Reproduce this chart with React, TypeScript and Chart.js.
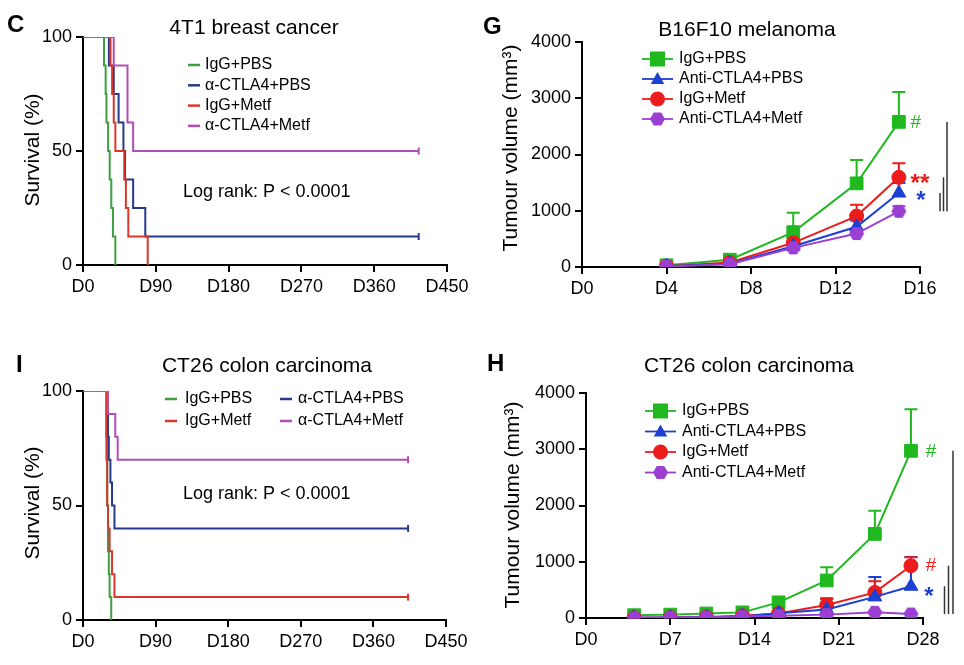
import React, { useEffect, useRef } from 'react';
import { Chart, registerables } from 'chart.js';

Chart.register(...registerables);

const FONT = "Arial, 'Liberation Sans', Helvetica, sans-serif";

// ---------- Panel C: 4T1 breast cancer (survival) ----------
const C_IGG_PBS_DAYS = [0, 26, 28, 29, 31, 33, 35, 37, 40];
const C_IGG_PBS_SURV = [100, 87.5, 75, 62.5, 50, 37.5, 25, 12.5, 0];
const C_CTLA4_PBS_DAYS = [0, 32, 38, 44, 50, 52, 62, 77, 415];
const C_CTLA4_PBS_SURV = [100, 87.5, 75, 62.5, 50, 37.5, 25, 12.5, 12.5];
const C_IGG_METF_DAYS = [0, 34, 36, 38, 40, 51, 53, 56, 80];
const C_IGG_METF_SURV = [100, 87.5, 75, 62.5, 50, 37.5, 25, 12.5, 0];
const C_CTLA4_METF_DAYS = [0, 38, 55, 62, 415];
const C_CTLA4_METF_SURV = [100, 87.5, 62.5, 50, 50];

// ---------- Panel I: CT26 colon carcinoma (survival) ----------
const I_IGG_PBS_DAYS = [0, 29, 30, 31, 32, 33, 35];
const I_IGG_PBS_SURV = [100, 80, 50, 30, 20, 10, 0];
const I_CTLA4_PBS_DAYS = [0, 30, 31, 32, 34, 36, 39, 403];
const I_CTLA4_PBS_SURV = [100, 90, 80, 70, 60, 50, 40, 40];
const I_IGG_METF_DAYS = [0, 29, 30, 31, 33, 36, 39, 403];
const I_IGG_METF_SURV = [100, 70, 50, 40, 30, 20, 10, 10];
const I_CTLA4_METF_DAYS = [0, 31, 40, 43, 403];
const I_CTLA4_METF_SURV = [100, 90, 80, 70, 70];

// ---------- Panel G: B16F10 melanoma (tumour volume) ----------
const G_DAYS = [4, 7, 10, 13, 15];
const G_IGG_PBS = [30, 130, 620, 1487, 2580];
const G_IGG_PBS_ERR = [10, 40, 345, 415, 530];
const G_CTLA4_PBS = [15, 60, 370, 715, 1315];
const G_CTLA4_PBS_ERR = [5, 20, 60, 110, 180];
const G_IGG_METF = [15, 80, 430, 905, 1594];
const G_IGG_METF_ERR = [5, 20, 80, 200, 250];
const G_CTLA4_METF = [10, 50, 340, 595, 990];
const G_CTLA4_METF_ERR = [5, 10, 40, 60, 90];

// ---------- Panel H: CT26 colon carcinoma (tumour volume) ----------
const H_DAYS = [4, 7, 10, 13, 16, 20, 24, 27];
const H_IGG_PBS = [50, 60, 80, 100, 278, 667, 1495, 2972];
const H_IGG_PBS_ERR = [10, 10, 20, 30, 80, 237, 413, 739];
const H_CTLA4_PBS = [5, 10, 15, 25, 85, 150, 375, 565];
const H_CTLA4_PBS_ERR = [3, 5, 5, 10, 20, 200, 353, 520];
const H_IGG_METF = [5, 10, 20, 40, 80, 230, 455, 930];
const H_IGG_METF_ERR = [3, 5, 5, 10, 20, 110, 200, 150];
const H_CTLA4_METF = [5, 10, 15, 25, 40, 60, 100, 71];
const H_CTLA4_METF_ERR = [2, 3, 3, 5, 10, 15, 20, 15];

const SURV_LABELS = ['IgG+PBS', 'α-CTLA4+PBS', 'IgG+Metf', 'α-CTLA4+Metf'];
const GROWTH_LABELS = ['IgG+PBS', 'Anti-CTLA4+PBS', 'IgG+Metf', 'Anti-CTLA4+Metf'];

const S_GREEN = '#3f9f3f';
const S_BLUE = '#27398a';
const S_RED = '#d8372c';
const S_MAGENTA = '#b24fb6';

const G_GREEN = '#1fb81f';
const G_BLUE = '#1c3fd4';
const G_RED = '#ec1c1c';
const G_PURPLE = '#9a3fd2';

type Box = { L: number; T: number; R: number; B: number; W: number; H: number };

const zip = (xs: number[], ys: number[]) => xs.map((x, i) => ({ x, y: ys[i] }));

function txt(ctx: CanvasRenderingContext2D, s: string, x: number, y: number, size: number, o: any = {}) {
  ctx.font = `${o.bold ? 'bold ' : ''}${size}px ${FONT}`;
  ctx.fillStyle = o.color || '#000';
  ctx.textAlign = o.align || 'left';
  ctx.textBaseline = o.baseline || 'middle';
  ctx.fillText(s, x, y);
}

function vtxt(ctx: CanvasRenderingContext2D, s: string, x: number, y: number, size: number) {
  ctx.save();
  ctx.translate(x, y);
  ctx.rotate(-Math.PI / 2);
  txt(ctx, s, 0, 0, size, { align: 'center' });
  ctx.restore();
}

function hexPath(ctx: CanvasRenderingContext2D, x: number, y: number, r: number) {
  ctx.beginPath();
  for (let k = 0; k < 6; k++) {
    const a = (Math.PI / 3) * k;
    const px = x + r * Math.cos(a);
    const py = y + r * Math.sin(a);
    if (k === 0) ctx.moveTo(px, py);
    else ctx.lineTo(px, py);
  }
  ctx.closePath();
}

function hexCanvas(color: string, r: number) {
  const c = document.createElement('canvas');
  const s = Math.ceil(2 * r + 2);
  c.width = s;
  c.height = s;
  const ctx = c.getContext('2d')!;
  ctx.fillStyle = color;
  hexPath(ctx, s / 2, s / 2, r);
  ctx.fill();
  return c;
}

function marker(ctx: CanvasRenderingContext2D, style: string, x: number, y: number, r: number, color: string) {
  ctx.fillStyle = color;
  if (style === 'hex') {
    hexPath(ctx, x, y, r);
    ctx.fill();
    return;
  }
  ctx.beginPath();
  if (style === 'rect') ctx.rect(x - r, y - r, 2 * r, 2 * r);
  else if (style === 'triangle') {
    ctx.moveTo(x, y - r * 0.95);
    ctx.lineTo(x + r * 0.9, y + r * 0.65);
    ctx.lineTo(x - r * 0.9, y + r * 0.65);
    ctx.closePath();
  } else ctx.arc(x, y, r, 0, Math.PI * 2);
  ctx.fill();
}

function scalesFor(box: Box, xMax: number, xStep: number, yMax: number, yStep: number) {
  const tickFont = { family: FONT, size: 18 };
  const grid = {
    drawOnChartArea: false,
    drawTicks: true,
    tickLength: 7,
    tickWidth: 2,
    tickColor: '#000',
    color: '#000',
    lineWidth: 2,
  };
  const border = { display: true, color: '#000', width: 2 };
  return {
    x: {
      type: 'linear',
      min: 0,
      max: xMax,
      afterFit: (s: any) => {
        s.height = box.H - box.B;
      },
      ticks: {
        stepSize: xStep,
        autoSkip: false,
        maxRotation: 0,
        color: '#000',
        font: tickFont,
        padding: 4,
        callback: (v: any) => 'D' + v,
      },
      grid,
      border,
    },
    y: {
      type: 'linear',
      min: 0,
      max: yMax,
      afterFit: (s: any) => {
        s.width = box.L;
      },
      ticks: {
        stepSize: yStep,
        color: '#000',
        font: tickFont,
        padding: 4,
        callback: (v: any) => String(v),
      },
      grid,
      border,
    },
  };
}

function baseOptions(box: Box, scales: any) {
  return {
    responsive: false,
    animation: false,
    events: [],
    layout: { padding: { left: 0, top: box.T, right: box.W - box.R, bottom: 0 } },
    plugins: { legend: { display: false }, title: { display: false }, tooltip: { enabled: false } },
    scales,
  };
}

function survDataset(label: string, days: number[], surv: number[], color: string, censored: boolean, order: number) {
  const n = days.length;
  return {
    label,
    data: zip(days, surv),
    borderColor: color,
    backgroundColor: color,
    borderWidth: 2,
    // horizontal first, then vertical drop (Kaplan-Meier step)
    stepped: 'before',
    fill: false,
    order,
    pointStyle: 'line',
    pointRotation: 90,
    pointRadius: days.map((_, i) => (censored && i === n - 1 ? 3.5 : 0)),
    pointHoverRadius: 0,
    pointBorderWidth: 2,
    pointBorderColor: color,
  };
}

function growthDataset(label: string, days: number[], vals: number[], errs: number[], color: string, style: any, radius: number, order: number) {
  return {
    label,
    data: zip(days, vals),
    errors: errs,
    borderColor: color,
    backgroundColor: color,
    borderWidth: 2,
    fill: false,
    tension: 0,
    order,
    pointStyle: style,
    pointRadius: radius,
    pointHoverRadius: radius,
    pointBackgroundColor: color,
    pointBorderColor: color,
    pointBorderWidth: 1,
  };
}

const errorBarPlugin = {
  id: 'errbars',
  beforeDatasetsDraw(chart: any) {
    const ctx = chart.ctx;
    const ys = chart.scales.y;
    chart.data.datasets.forEach((ds: any, i: number) => {
      if (!ds.errors) return;
      const meta = chart.getDatasetMeta(i);
      ctx.save();
      ctx.strokeStyle = ds.borderColor;
      ctx.lineWidth = 2;
      meta.data.forEach((p: any, j: number) => {
        const v = ds.data[j].y + ds.errors[j];
        const top = ys.getPixelForValue(v);
        ctx.beginPath();
        ctx.moveTo(p.x, p.y);
        ctx.lineTo(p.x, top);
        ctx.moveTo(p.x - 6.5, top);
        ctx.lineTo(p.x + 6.5, top);
        ctx.stroke();
      });
      ctx.restore();
    });
  },
};

function overlay(id: string, draw: (ctx: CanvasRenderingContext2D, chart: any) => void) {
  return {
    id,
    afterDraw(chart: any) {
      const ctx = chart.ctx;
      ctx.save();
      draw(ctx, chart);
      ctx.restore();
    },
  };
}

function lastPoint(chart: any, i: number) {
  const d = chart.getDatasetMeta(i).data;
  return d[d.length - 1];
}

function bracket(ctx: CanvasRenderingContext2D, x: number, y1: number, y2: number) {
  ctx.strokeStyle = '#333';
  ctx.lineWidth = 1.5;
  ctx.beginPath();
  ctx.moveTo(x, y1);
  ctx.lineTo(x, y2);
  ctx.stroke();
}

// ---------- Box geometry of each panel ----------
const BOX_C: Box = { L: 83, T: 37, R: 447, B: 265, W: 480, H: 332 };
const BOX_G: Box = { L: 102, T: 42, R: 440, B: 267, W: 484, H: 332 };
const BOX_I: Box = { L: 83, T: 59, R: 446, B: 288, W: 480, H: 333 };
const BOX_H: Box = { L: 106, T: 61, R: 443, B: 286, W: 484, H: 333 };

function buildC() {
  const colors = [S_GREEN, S_BLUE, S_RED, S_MAGENTA];
  return {
    type: 'line',
    data: {
      datasets: [
        survDataset(SURV_LABELS[0], C_IGG_PBS_DAYS, C_IGG_PBS_SURV, S_GREEN, false, 3),
        survDataset(SURV_LABELS[1], C_CTLA4_PBS_DAYS, C_CTLA4_PBS_SURV, S_BLUE, true, 2),
        survDataset(SURV_LABELS[2], C_IGG_METF_DAYS, C_IGG_METF_SURV, S_RED, false, 1),
        survDataset(SURV_LABELS[3], C_CTLA4_METF_DAYS, C_CTLA4_METF_SURV, S_MAGENTA, true, 0),
      ],
    },
    options: baseOptions(BOX_C, scalesFor(BOX_C, 450, 90, 100, 50)),
    plugins: [
      overlay('textC', (ctx) => {
        txt(ctx, 'C', 7, 25, 24, { bold: true });
        txt(ctx, '4T1 breast cancer', 254, 28, 21, { align: 'center' });
        vtxt(ctx, 'Survival (%)', 33, 150, 21);
        SURV_LABELS.forEach((l, i) => {
          const y = 65 + i * 20.3;
          ctx.strokeStyle = colors[i];
          ctx.lineWidth = 2.5;
          ctx.beginPath();
          ctx.moveTo(188, y);
          ctx.lineTo(200, y);
          ctx.stroke();
          txt(ctx, l, 205, y, 16);
        });
        txt(ctx, 'Log rank: P < 0.0001', 183, 192, 18);
      }),
    ],
  };
}

function buildI() {
  const colors = [S_GREEN, S_BLUE, S_RED, S_MAGENTA];
  return {
    type: 'line',
    data: {
      datasets: [
        survDataset(SURV_LABELS[0], I_IGG_PBS_DAYS, I_IGG_PBS_SURV, S_GREEN, false, 3),
        survDataset(SURV_LABELS[1], I_CTLA4_PBS_DAYS, I_CTLA4_PBS_SURV, S_BLUE, true, 2),
        survDataset(SURV_LABELS[2], I_IGG_METF_DAYS, I_IGG_METF_SURV, S_RED, true, 1),
        survDataset(SURV_LABELS[3], I_CTLA4_METF_DAYS, I_CTLA4_METF_SURV, S_MAGENTA, true, 0),
      ],
    },
    options: baseOptions(BOX_I, scalesFor(BOX_I, 450, 90, 100, 50)),
    plugins: [
      overlay('textI', (ctx) => {
        txt(ctx, 'I', 16, 33, 24, { bold: true });
        txt(ctx, 'CT26 colon carcinoma', 267, 34, 21, { align: 'center' });
        vtxt(ctx, 'Survival (%)', 33, 171, 21);
        // two-column legend: col1 = IgG+PBS, IgG+Metf ; col2 = α-CTLA4+PBS, α-CTLA4+Metf
        const order = [0, 2, 1, 3];
        order.forEach((idx, k) => {
          const col = k < 2 ? 0 : 1;
          const row = k % 2;
          const x0 = col === 0 ? 165 : 280;
          const y = 67 + row * 22;
          ctx.strokeStyle = colors[idx];
          ctx.lineWidth = 2.5;
          ctx.beginPath();
          ctx.moveTo(x0, y);
          ctx.lineTo(x0 + 12, y);
          ctx.stroke();
          txt(ctx, SURV_LABELS[idx], x0 + (col === 0 ? 20 : 18), y, 16);
        });
        txt(ctx, 'Log rank: P < 0.0001', 183, 162, 18);
      }),
    ],
  };
}

function growthLegend(ctx: CanvasRenderingContext2D, x0: number, y0: number, dy: number, colors: string[]) {
  const styles = ['rect', 'triangle', 'circle', 'hex'];
  GROWTH_LABELS.forEach((l, i) => {
    const y = y0 + i * dy;
    ctx.strokeStyle = colors[i];
    ctx.lineWidth = 1.8;
    ctx.beginPath();
    ctx.moveTo(x0, y);
    ctx.lineTo(x0 + 31, y);
    ctx.stroke();
    marker(ctx, styles[i], x0 + 15.5, y, 7.5, colors[i]);
    txt(ctx, l, x0 + 37, y, 16);
  });
}

function buildG(hex: HTMLCanvasElement) {
  const colors = [G_GREEN, G_BLUE, G_RED, G_PURPLE];
  return {
    type: 'line',
    data: {
      datasets: [
        growthDataset(GROWTH_LABELS[0], G_DAYS, G_IGG_PBS, G_IGG_PBS_ERR, G_GREEN, 'rect', 9, 3),
        growthDataset(GROWTH_LABELS[1], G_DAYS, G_CTLA4_PBS, G_CTLA4_PBS_ERR, G_BLUE, 'triangle', 8, 1),
        growthDataset(GROWTH_LABELS[2], G_DAYS, G_IGG_METF, G_IGG_METF_ERR, G_RED, 'circle', 7, 2),
        growthDataset(GROWTH_LABELS[3], G_DAYS, G_CTLA4_METF, G_CTLA4_METF_ERR, G_PURPLE, hex, 7, 0),
      ],
    },
    options: baseOptions(BOX_G, scalesFor(BOX_G, 16, 4, 4000, 1000)),
    plugins: [
      errorBarPlugin,
      overlay('textG', (ctx, chart) => {
        txt(ctx, 'G', 3, 27, 24, { bold: true });
        txt(ctx, 'B16F10 melanoma', 267, 30, 21, { align: 'center' });
        vtxt(ctx, 'Tumour volume (mm³)', 31, 148, 21);
        growthLegend(ctx, 162, 59, 20, colors);
        const pG = lastPoint(chart, 0);
        const pB = lastPoint(chart, 1);
        const pR = lastPoint(chart, 2);
        const pM = lastPoint(chart, 3);
        txt(ctx, '#', pG.x + 17, pG.y + 1, 19, { color: G_GREEN, align: 'center' });
        txt(ctx, '**', pR.x + 21, pR.y + 14, 24, { color: G_RED, align: 'center', baseline: 'alphabetic', bold: true });
        txt(ctx, '*', pB.x + 22, pB.y + 15, 24, { color: G_BLUE, align: 'center', baseline: 'alphabetic', bold: true });
        const r = chart.chartArea.right;
        bracket(ctx, r + 27, pG.y, pM.y);
        bracket(ctx, r + 23.5, pR.y, pM.y);
        bracket(ctx, r + 20, pB.y, pM.y);
      }),
    ],
  };
}

function buildH(hex: HTMLCanvasElement) {
  const colors = [G_GREEN, G_BLUE, G_RED, G_PURPLE];
  return {
    type: 'line',
    data: {
      datasets: [
        growthDataset(GROWTH_LABELS[0], H_DAYS, H_IGG_PBS, H_IGG_PBS_ERR, G_GREEN, 'rect', 9, 3),
        growthDataset(GROWTH_LABELS[1], H_DAYS, H_CTLA4_PBS, H_CTLA4_PBS_ERR, G_BLUE, 'triangle', 8, 1),
        growthDataset(GROWTH_LABELS[2], H_DAYS, H_IGG_METF, H_IGG_METF_ERR, G_RED, 'circle', 7, 2),
        growthDataset(GROWTH_LABELS[3], H_DAYS, H_CTLA4_METF, H_CTLA4_METF_ERR, G_PURPLE, hex, 7, 0),
      ],
    },
    options: baseOptions(BOX_H, scalesFor(BOX_H, 28, 7, 4000, 1000)),
    plugins: [
      errorBarPlugin,
      overlay('textH', (ctx, chart) => {
        txt(ctx, 'H', 7, 32, 24, { bold: true });
        txt(ctx, 'CT26 colon carcinoma', 269, 34, 21, { align: 'center' });
        vtxt(ctx, 'Tumour volume (mm³)', 33, 173, 21);
        growthLegend(ctx, 165, 79, 20.5, colors);
        const pG = lastPoint(chart, 0);
        const pB = lastPoint(chart, 1);
        const pR = lastPoint(chart, 2);
        const pM = lastPoint(chart, 3);
        txt(ctx, '#', pG.x + 20, pG.y + 1, 19, { color: G_GREEN, align: 'center' });
        txt(ctx, '#', pR.x + 20, pR.y, 19, { color: G_RED, align: 'center' });
        txt(ctx, '*', pB.x + 18, pB.y + 18, 24, { color: G_BLUE, align: 'center', baseline: 'alphabetic', bold: true });
        const r = chart.chartArea.right;
        bracket(ctx, r + 30, pG.y, pM.y);
        bracket(ctx, r + 25.5, pR.y, pM.y);
        bracket(ctx, r + 21.5, pB.y, pM.y);
      }),
    ],
  };
}

function Panel({ left, top, box, build }: { left: number; top: number; box: Box; build: () => any }) {
  const ref = useRef<HTMLCanvasElement | null>(null);
  useEffect(() => {
    if (!ref.current) return;
    const chart = new Chart(ref.current, build());
    return () => chart.destroy();
  }, []);
  return (
    <canvas
      ref={ref}
      width={box.W}
      height={box.H}
      style={{ position: 'absolute', left, top, width: box.W, height: box.H }}
    />
  );
}

export default function App() {
  const hexRef = useRef<HTMLCanvasElement | null>(null);
  const getHex = () => {
    if (!hexRef.current) hexRef.current = hexCanvas(G_PURPLE, 7.5);
    return hexRef.current;
  };
  return (
    <div
      style={{
        position: 'absolute',
        left: 0,
        top: 0,
        width: 964,
        height: 665,
        background: '#fff',
        overflow: 'hidden',
      }}
    >
      <Panel left={0} top={0} box={BOX_C} build={buildC} />
      <Panel left={480} top={0} box={BOX_G} build={() => buildG(getHex())} />
      <Panel left={0} top={332} box={BOX_I} build={buildI} />
      <Panel left={480} top={332} box={BOX_H} build={() => buildH(getHex())} />
    </div>
  );
}
